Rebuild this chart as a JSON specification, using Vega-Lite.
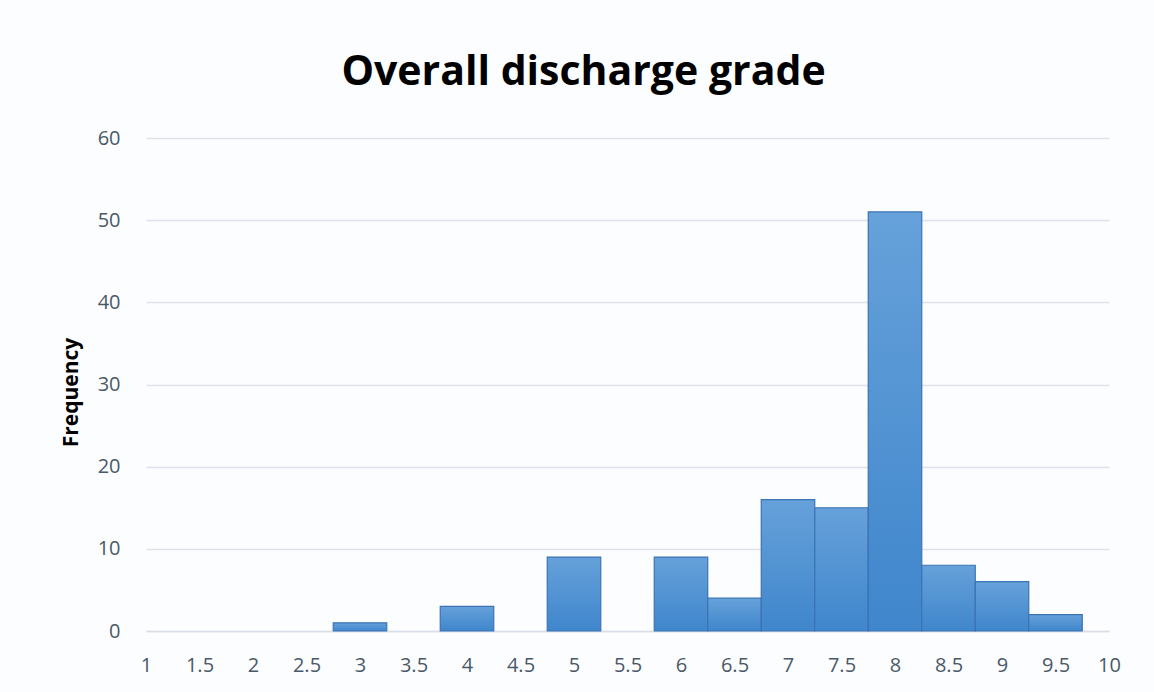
{
  "$schema": "https://vega.github.io/schema/vega-lite/v6.json",
  "autosize": "none",
  "width": 963,
  "height": 493,
  "padding": {"left": 146, "top": 138, "right": 45, "bottom": 61},
  "background": "#fcfdfe",
  "title": {
    "text": "Overall discharge grade",
    "font": "Open Sans",
    "fontSize": 41,
    "fontWeight": "bold",
    "color": "#000000",
    "anchor": "middle",
    "dx": -44,
    "offset": 34
  },
  "data": {
    "values": [
      {"bin_start": 2.75, "bin_end": 3.25, "count": 1},
      {"bin_start": 3.75, "bin_end": 4.25, "count": 3},
      {"bin_start": 4.75, "bin_end": 5.25, "count": 9},
      {"bin_start": 5.75, "bin_end": 6.25, "count": 9},
      {"bin_start": 6.25, "bin_end": 6.75, "count": 4},
      {"bin_start": 6.75, "bin_end": 7.25, "count": 16},
      {"bin_start": 7.25, "bin_end": 7.75, "count": 15},
      {"bin_start": 7.75, "bin_end": 8.25, "count": 51},
      {"bin_start": 8.25, "bin_end": 8.75, "count": 8},
      {"bin_start": 8.75, "bin_end": 9.25, "count": 6},
      {"bin_start": 9.25, "bin_end": 9.75, "count": 2}
    ]
  },
  "mark": {
    "type": "bar",
    "fill": {
      "gradient": "linear",
      "x1": 0, "y1": 0, "x2": 0, "y2": 1,
      "stops": [
        {"offset": 0, "color": "#66a1da"},
        {"offset": 1, "color": "#3f86cc"}
      ]
    },
    "stroke": "#3b73b4",
    "strokeWidth": 1.2,
    "cornerRadius": 0
  },
  "encoding": {
    "x": {
      "field": "bin_start",
      "type": "quantitative",
      "scale": {"domain": [1, 10], "nice": false, "zero": false},
      "axis": {
        "title": null,
        "values": [1, 1.5, 2, 2.5, 3, 3.5, 4, 4.5, 5, 5.5, 6, 6.5, 7, 7.5, 8, 8.5, 9, 9.5, 10],
        "format": "~g",
        "grid": false,
        "ticks": false,
        "domain": true,
        "domainColor": "#d9e0e8",
        "domainWidth": 1.5,
        "labelFont": "Open Sans",
        "labelFontSize": 20,
        "labelColor": "#4a5968",
        "labelPadding": 24,
        "labelFlush": false
      }
    },
    "x2": {"field": "bin_end"},
    "y": {
      "field": "count",
      "type": "quantitative",
      "scale": {"domain": [0, 60], "nice": false},
      "axis": {
        "title": "Frequency",
        "titleFont": "Open Sans",
        "titleFontSize": 21,
        "titleFontWeight": "bold",
        "titleColor": "#000000",
        "titlePadding": 16,
        "titleY": 254,
        "values": [0, 10, 20, 30, 40, 50, 60],
        "grid": true,
        "gridColor": "#dde3ea",
        "gridWidth": 1.5,
        "domain": false,
        "ticks": false,
        "labelFont": "Open Sans",
        "labelFontSize": 20,
        "labelColor": "#4a5968",
        "labelPadding": 26
      }
    },
    "y2": {"datum": 0}
  },
  "config": {"view": {"stroke": null}}
}
